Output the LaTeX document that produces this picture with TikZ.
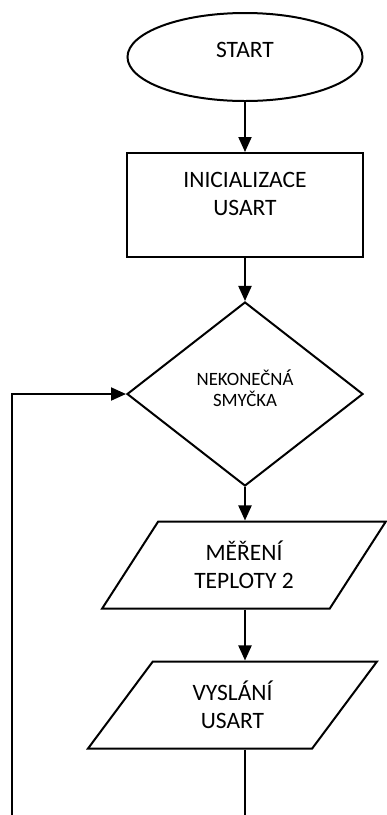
\documentclass[tikz,border=0pt]{standalone}
\usepackage{fontspec}
\setmainfont{Carlito}
\usetikzlibrary{shapes.geometric,arrows.meta}
\begin{document}
\begin{tikzpicture}[x=1pt,y=-1pt,
  base/.style={draw=black, line width=2pt, fill=white, inner sep=0pt,
    font=\fontsize{23.5}{28.4}\selectfont, align=center},
  term/.style={base, ellipse, minimum width=235pt, minimum height=88pt},
  proc/.style={base, rectangle, minimum width=236pt, minimum height=104pt},
  dec/.style={base, diamond, minimum width=236pt, minimum height=184pt,
    font=\fontsize{18.8}{21.7}\selectfont},
  io/.style={base, trapezium, trapezium left angle=56, trapezium right angle=124,
    trapezium stretches=true, minimum height=87pt},
  arr/.style={line width=2pt, -{Triangle[length=15pt,width=13pt]}},
  ln/.style={line width=2pt}]
\useasboundingbox[fill=white] (0,0) rectangle (387,815);
\node[term] (start) at (245,57) {START\rule[-14pt]{0pt}{0pt}};
\node[proc] (init) at (245,205) {INICIALIZACE\\USART\rule[-22pt]{0pt}{0pt}};
\node[dec] (dia) at (245,394) {NEKONEČNÁ\\SMYČKA\rule[-12pt]{0pt}{0pt}};
\node[io, minimum width=284pt] (p1) at (244,565) {MĚŘENÍ\\TEPLOTY 2};
\node[io, minimum width=289pt] (p2) at (232.5,705) {VYSLÁNÍ\\USART};
\coordinate (endc) at (245,815);
\coordinate (loopb) at (12,815);
\draw[arr] (start) -- (init);
\draw[arr] (init) -- (dia);
\draw[arr] (dia.south) -- (dia.south |- p1.north);
\draw[arr] (p1.south -| dia.south) -- (p2.north -| dia.south);
\draw[ln] (p2.south -| dia.south) -- (endc);
\draw[arr] (loopb) |- (dia.west);
\end{tikzpicture}
\end{document}
